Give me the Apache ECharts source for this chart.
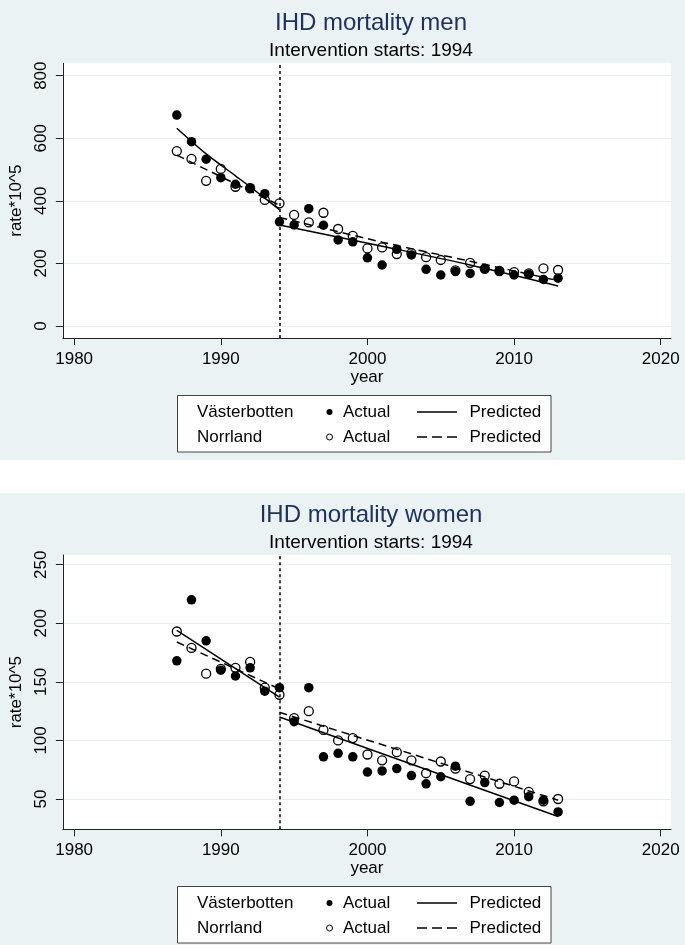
<!DOCTYPE html>
<html><head><meta charset="utf-8">
<script src="https://cdn.jsdelivr.net/npm/echarts@6/dist/echarts.min.js"></script>
<style>html,body{margin:0;padding:0;background:#fff}#c{width:685px;height:945px}</style>
</head><body><div id="c"></div>
<script>
// ---------- data ----------
const years = [1987,1988,1989,1990,1991,1992,1993,1994,1995,1996,1997,1998,1999,2000,2001,2002,2003,2004,2005,2006,2007,2008,2009,2010,2011,2012,2013];
const menVbActual = [674,589,533,474,453,442,423,333,323,375,322,275,269,218,195,245,227,181,163,174,168,184,174,163,165,149,153];
const menNoActual = [559,534,464,502,445,440,403,392,355,331,362,310,288,248,251,230,233,220,211,178,202,183,176,172,168,184,179];
const womenVbActual = [168,220,185,160,155,162,142,145,116,145,86,89,86,73,74,76,70,63,69,78,48,64,47,49,52,49,39];
const womenNoActual = [193,179,157,161,162,167,145,139,119,125,109,100,102,88,83,90,83,72,82,76,67,70,63,65,56,48,50];
const menVbPredPre = [[1987,632],[1989,550],[1991,480],[1992,445],[1994,372]];
const menNoPredPre = [[1987,546],[1994,386]];
const menVbPredPost = [[1994,323],[2001,255],[2007,195],[2013,128]];
const menNoPredPost = [[1994,347],[2001,268],[2007,207],[2013,145]];
const womenVbPredPre = [[1987,194],[1994,137]];
const womenNoPredPre = [[1987,184],[1994,144]];
const womenVbPredPost = [[1994,120],[2013,35]];
const womenNoPredPost = [[1994,124],[2013,49]];
const interventionYear = 1994;
const xTicks = [1980,1990,2000,2010,2020];
const menYTicks = [0,200,400,600,800];
const womenYTicks = [50,100,150,200,250];
const titles = ['IHD mortality men','IHD mortality women'];
const subtitle = 'Intervention starts: 1994';

// ---------- styling ----------
const F = '"Liberation Sans", Arial, sans-serif';
const BG = '#EAF2F3';
const panels = [
  {top:0, h:460, gridTop:63.3, gridH:274.7, ymin:-38.35, ymax:839.6, yt:menYTicks,
   vb:menVbActual, no:menNoActual, vbPre:menVbPredPre, noPre:menNoPredPre, vbPost:menVbPredPost, noPost:menNoPredPost, legTop:395},
  {top:493, h:452, gridTop:555, gridH:274.3, ymin:24.13, ymax:258.3, yt:womenYTicks,
   vb:womenVbActual, no:womenNoActual, vbPre:womenVbPredPre, noPre:womenNoPredPre, vbPost:womenVbPredPost, noPost:womenNoPredPost, legTop:886}
];

const grid=[], xAxis=[], yAxis=[], series=[], title=[], graphic=[];
panels.forEach((p,gi)=>{
  graphic.push({type:'rect', z:-100, silent:true, shape:{x:0,y:p.top,width:685,height:p.h}, style:{fill:BG}});
  title.push({text:titles[gi], left:366, textAlign:'center', top:p.gridTop-57,
    textStyle:{fontFamily:F, fontSize:24, fontWeight:'normal', color:'#1f3160'}});
  title.push({text:subtitle, left:366, textAlign:'center', top:p.gridTop-27,
    textStyle:{fontFamily:F, fontSize:19, fontWeight:'normal', color:'#000'}});
  grid.push({left:61, top:p.gridTop, width:610, height:p.gridH, show:true, backgroundColor:'#fff', borderWidth:0});
  xAxis.push({type:'value', gridIndex:gi, min:1979.232, max:2020.70,
    name:'year', nameLocation:'middle', nameGap:29,
    nameTextStyle:{fontFamily:F, fontSize:17, color:'#000'},
    axisLine:{show:true, onZero:false, lineStyle:{color:'#222', width:1}},
    axisTick:{show:true, length:7, customValues:xTicks, lineStyle:{color:'#222'}},
    axisLabel:{customValues:xTicks, formatter:v=>String(v), fontFamily:F, fontSize:17, color:'#000', margin:13},
    splitLine:{show:false}});
  yAxis.push({type:'value', gridIndex:gi, min:p.ymin, max:p.ymax,
    name:'rate*10^5', nameLocation:'middle', nameGap:35, nameRotate:90,
    nameTextStyle:{fontFamily:F, fontSize:17, color:'#000'},
    axisLine:{show:true, onZero:false, lineStyle:{color:'#222', width:1}},
    axisTick:{show:true, length:7, customValues:p.yt, lineStyle:{color:'#222'}},
    axisLabel:{customValues:p.yt, formatter:v=>String(v), rotate:90, fontFamily:F, fontSize:17, color:'#000', margin:13},
    splitLine:{show:true, lineStyle:{color:'#E6EFF1', width:1}}});
  const lineS = (name, data, dashed, smooth) => ({
    name, type:'line', xAxisIndex:gi, yAxisIndex:gi, data, showSymbol:false, symbol:'none',
    smooth: smooth || false, silent:true,
    lineStyle:{color:'#000', width:1.5, type: dashed ? [8,5] : 'solid'}, z:2});
  const vl = lineS('Västerbotten Predicted', p.vbPre, false, gi===0 ? 0.3 : false);
  vl.markLine = {silent:true, symbol:['none','none'], label:{show:false},
    lineStyle:{color:'#000', width:1.5, type:[3,3]}, data:[{xAxis:interventionYear}]};
  series.push(vl);
  series.push(lineS('Västerbotten Predicted', p.vbPost, false, gi===0 ? 0.3 : false));
  series.push(lineS('Norrland Predicted', p.noPre, true));
  series.push(lineS('Norrland Predicted', p.noPost, true, gi===0 ? 0.3 : false));
  series.push({name:'Norrland Actual', type:'scatter', xAxisIndex:gi, yAxisIndex:gi,
    data: years.map((y,i)=>[y,p.no[i]]), symbol:'circle', symbolSize:9, silent:true,
    itemStyle:{color:'rgba(255,255,255,0)', borderColor:'#000', borderWidth:1.3, opacity:1}, z:3});
  series.push({name:'Västerbotten Actual', type:'scatter', xAxisIndex:gi, yAxisIndex:gi,
    data: years.map((y,i)=>[y,p.vb[i]]), symbol:'circle', symbolSize:9.5, silent:true,
    itemStyle:{color:'#000', opacity:1}, z:4});

  // legend box (custom, Stata-style)
  const T = p.legTop, r1 = T+17, r2 = T+42;
  const txt = (x,y,s)=>({type:'text', z:100, silent:true, x, y,
    style:{text:s, fontFamily:F, fontSize:17, fill:'#000', verticalAlign:'middle', align:'left'}});
  graphic.push({type:'rect', z:90, silent:true, shape:{x:177.5,y:T+0.5,width:373.5,height:56.5},
    style:{fill:'#fff', stroke:'#444', lineWidth:1}});
  graphic.push(txt(197,r1,'Västerbotten'));
  graphic.push({type:'circle', z:100, silent:true, shape:{cx:329.5,cy:r1,r:3}, style:{fill:'#000'}});
  graphic.push(txt(343,r1,'Actual'));
  graphic.push({type:'line', z:100, silent:true, shape:{x1:417,y1:r1,x2:457,y2:r1}, style:{stroke:'#000', lineWidth:1.5}});
  graphic.push(txt(469.5,r1,'Predicted'));
  graphic.push(txt(197,r2,'Norrland'));
  graphic.push({type:'circle', z:100, silent:true, shape:{cx:329.5,cy:r2,r:3}, style:{fill:'#fff', stroke:'#000', lineWidth:1}});
  graphic.push(txt(343,r2,'Actual'));
  graphic.push({type:'line', z:100, silent:true, shape:{x1:417,y1:r2,x2:457,y2:r2}, style:{stroke:'#000', lineWidth:1.5, lineDash:[10,5]}});
  graphic.push(txt(469.5,r2,'Predicted'));
});

const chart = echarts.init(document.getElementById('c'), null, {renderer:'canvas'});
chart.setOption({animation:false, backgroundColor:'#fff', title, grid, xAxis, yAxis, series, graphic});
</script></body></html>
